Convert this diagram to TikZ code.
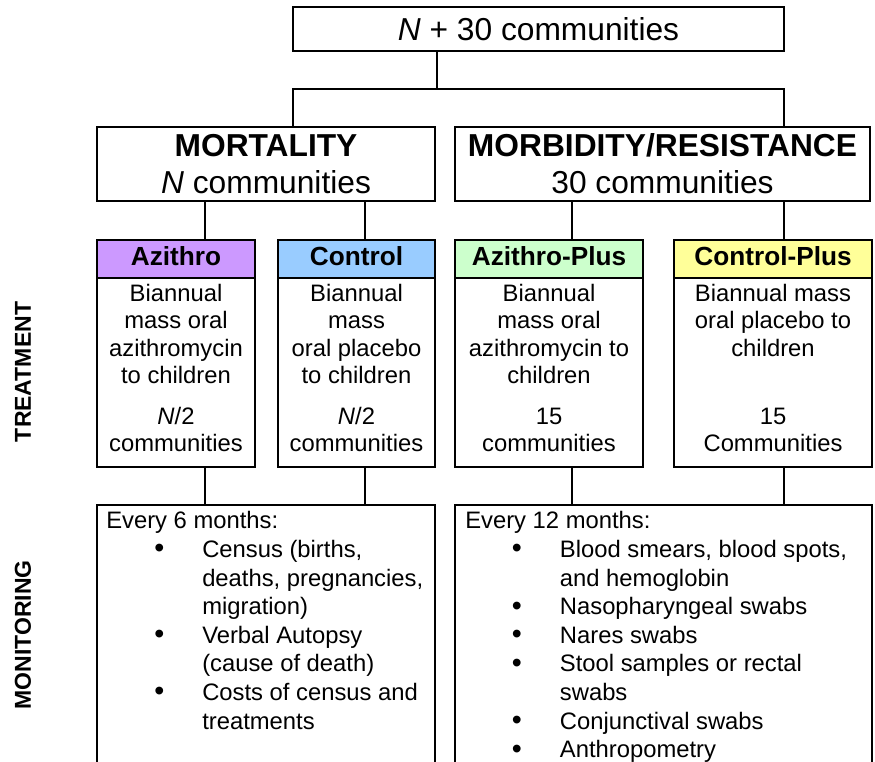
\documentclass[tikz,border=0pt]{standalone}
\usepackage{fontspec}
\setmainfont{Liberation Sans}
\usetikzlibrary{fit}

\definecolor{azicol}{HTML}{CC99FF}
\definecolor{concol}{HTML}{99CCFF}
\definecolor{aziplcol}{HTML}{CCFFCC}
\definecolor{conplcol}{HTML}{FFFF99}

\tikzset{
	box/.style={draw, line width=1.6pt, inner sep=0pt},
	link/.style={line width=1.6pt},
	bigtext/.style={font=\fontsize{23.8}{27.75}\selectfont, align=center, inner sep=0pt},
	headtext/.style={font=\fontsize{19.65}{23}\selectfont\bfseries, inner sep=0pt, yshift=2pt},
	bodytext/.style={font=\fontsize{17.85}{20.6}\selectfont, align=center, inner sep=0pt, anchor=base},
	listtext/.style={font=\fontsize{17.85}{21.45}\selectfont, inner sep=0pt, anchor=base west},
	sidetext/.style={font=\fontsize{17.25}{20}\selectfont\bfseries, rotate=90, inner sep=0pt}
}

\newcommand{\bul}{\raisebox{-0.3pt}{\scalebox{1.2}{\textbullet}} &}

\begin{document}
\begin{tikzpicture}[x=0.75pt,y=-0.75pt]
	\useasboundingbox (0,0) rectangle (875,762);
	\clip (0,0) rectangle (875,762);

	\node[box, fit={(293,7) (784,51)}] (top) {}; % all communities
	\node[bigtext] (topt) at (top.center) {\textit{N} + 30 communities};

	\node[box, fit={(97,127) (435,201)}] (mort) {};
	\node[bigtext] (mortt) at (mort.center) {\textbf{MORTALITY}\\\textit{N} communities};
	\node[box, fit={(455,127) (870,201)}] (morb) {};
	\node[bigtext] (morbt) at (morb.center) {\textbf{MORBIDITY/RESISTANCE}\\30 communities};

	% treatment arms
	\node[box, fill=azicol, fit={(97,240) (255,278)}] (azih) {};
	\node[box, fit={(97,278) (255,467)}] (azib) {};
	\node[box, fill=concol, fit={(278,240) (435,278)}] (conh) {};
	\node[box, fit={(278,278) (435,467)}] (conb) {};
	\node[box, fill=aziplcol, fit={(455,240) (643,278)}] (aziplh) {};
	\node[box, fit={(455,278) (643,467)}] (aziplb) {};
	\node[box, fill=conplcol, fit={(674,240) (872,278)}] (conplh) {};
	\node[box, fit={(674,278) (872,467)}] (conplb) {};

	\node[headtext] (azil) at (azih.center) {Azithro};
	\node[headtext] (conl) at (conh.center) {Control};
	\node[headtext] (azipll) at (aziplh.center) {Azithro-Plus};
	\node[headtext] (conpll) at (conplh.center) {Control-Plus};

	% anchor base = last line
	\node[bodytext] (azit) at (176,452) {Biannual\\mass oral\\azithromycin\\to children\\[10pt]\textit{N}/2\\communities};
	\node[bodytext] (cont) at (356.5,452) {Biannual\\mass\\oral placebo\\to children\\[10pt]\textit{N}/2\\communities};
	\node[bodytext] (aziplt) at (549,452) {Biannual\\mass oral\\azithromycin to\\children\\[10pt]15\\communities};
	\node[bodytext] (conplt) at (773,452) {Biannual mass\\oral placebo to\\children\\[30.6pt]15\\Communities};

	% monitoring
	\node[box, fit={(97,505) (435,800)}] (monl) {};
	\node[box, fit={(455,505) (872,800)}] (monr) {};

	\node[listtext] (monlt) at (106,529) {\begin{tabular}[t]{@{\hspace{36pt}}l@{\hspace{28.5pt}}l@{}}
		\multicolumn{2}{@{}l@{}}{Every 6 months:}\\
		\bul Census (births,\\
		& deaths, pregnancies,\\
		& migration)\\
		\bul Verbal Autopsy\\
		& (cause of death)\\
		\bul Costs of census and\\
		& treatments
	\end{tabular}};
	\node[listtext] (monrt) at (465,529) {\begin{tabular}[t]{@{\hspace{35pt}}l@{\hspace{28.5pt}}l@{}}
		\multicolumn{2}{@{}l@{}}{Every 12 months:}\\
		\bul Blood smears, blood spots,\\
		& and hemoglobin\\
		\bul Nasopharyngeal swabs\\
		\bul Nares swabs\\
		\bul Stool samples or rectal\\
		& swabs\\
		\bul Conjunctival swabs\\
		\bul Anthropometry
	\end{tabular}};

	\node[sidetext] (treat) at (23,372) {TREATMENT};
	\node[sidetext] (monit) at (23,635) {MONITORING};

	% connectors
	\coordinate (split) at (437,89);
	\coordinate (busl) at (293,89);
	\coordinate (busr) at (784,89);
	\coordinate (c1) at (205,0);
	\coordinate (c2) at (365,0);
	\coordinate (c3) at (572,0);
	\coordinate (c4) at (784,0);

	\draw[link] (top.south -| split) -- (split);
	\draw[link] (mort.north -| busl) -- (busl) -- (busr) -- (morb.north -| busr);

	\draw[link] (mort.south -| c1) -- (azih.north -| c1);
	\draw[link] (mort.south -| c2) -- (conh.north -| c2);
	\draw[link] (morb.south -| c3) -- (aziplh.north -| c3);
	\draw[link] (morb.south -| c4) -- (conplh.north -| c4);

	\draw[link] (azib.south -| c1) -- (monl.north -| c1);
	\draw[link] (conb.south -| c2) -- (monl.north -| c2);
	\draw[link] (aziplb.south -| c3) -- (monr.north -| c3);
	\draw[link] (conplb.south -| c4) -- (monr.north -| c4);
\end{tikzpicture}
\end{document}
